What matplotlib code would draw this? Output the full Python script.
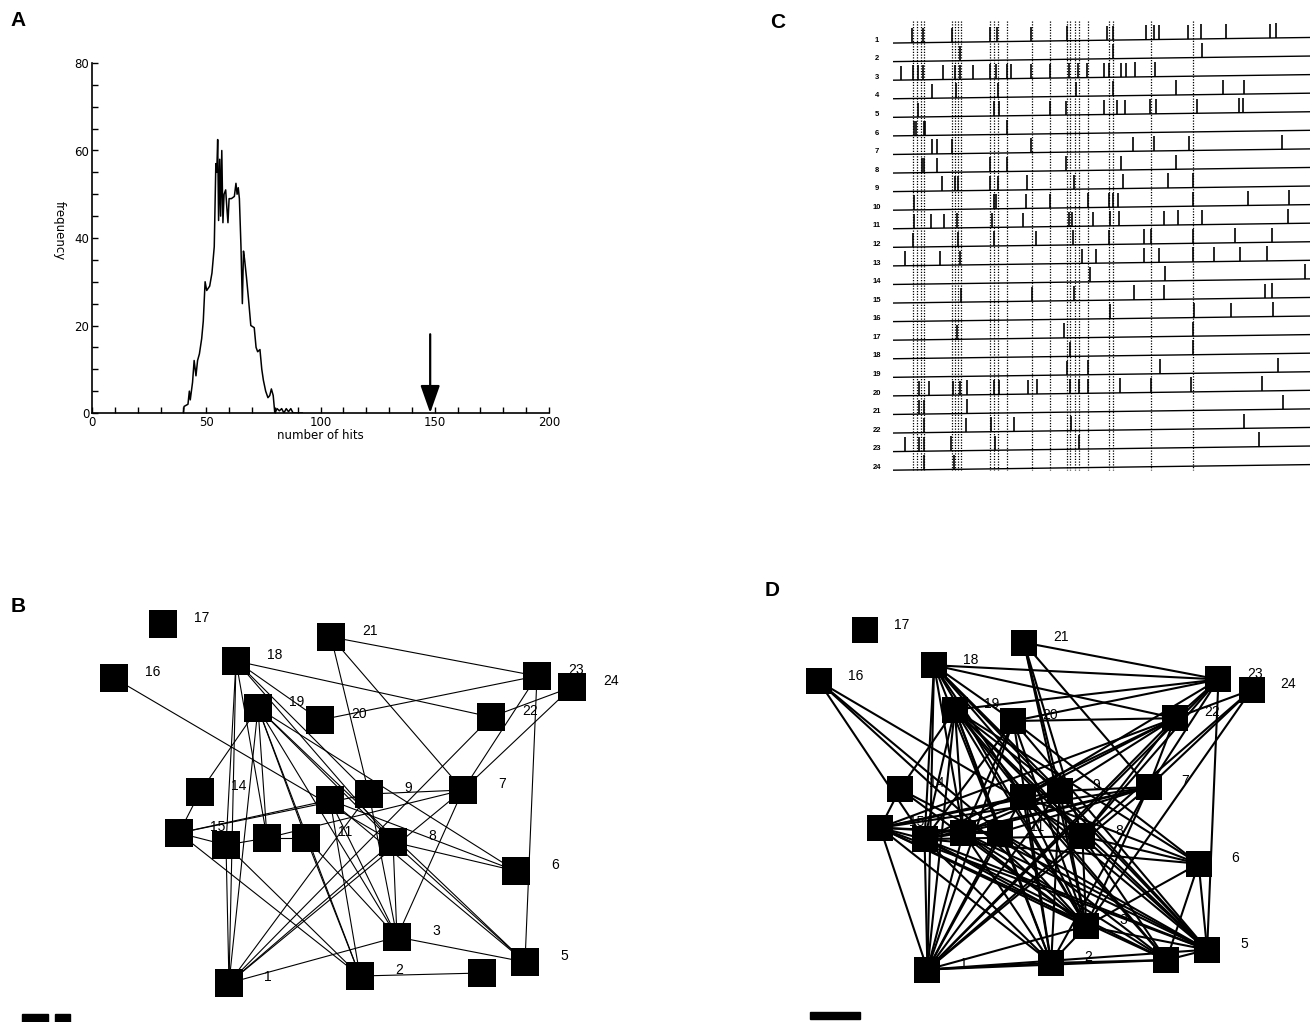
import numpy as np
import matplotlib
matplotlib.use("Agg")
import matplotlib.pyplot as plt
from matplotlib.patches import Rectangle

plt.rcParams['font.family'] = ['Liberation Sans', 'DejaVu Sans']

# ---- panel A: distribution of hits for shuffled data, arrow = observed
hits = [40, 40.3, 42, 42.6, 43, 44, 44.7, 45.5, 46.2, 47, 48, 48.7, 49.5, 50.2,
        51.5, 52.5, 53.5, 54.2, 54.6, 55, 55.4, 55.9, 56.3, 56.8, 57.3, 57.8,
        58.5, 59, 59.5, 60, 61, 62.3, 63, 63.5, 64, 64.5, 65.2, 65.8, 66.3,
        66.8, 67.6, 68.5, 69.5, 71, 71.8, 72.5, 73.5, 74.3, 75, 76, 77, 77.8,
        78.5, 79.3, 80, 81, 82, 83, 84, 85, 86, 87, 88, 92]
freq = [0, 1.5, 2, 5, 3, 7, 12, 8.5, 12, 13.5, 17, 21, 30, 28,
        29, 32, 38, 57, 55, 62.5, 44, 58, 45, 60, 43.5, 50,
        51, 47, 43.5, 49, 49, 49.5, 52.5, 50, 51.5, 49, 38, 25, 37,
        35, 31, 26, 20, 19.5, 15, 14, 14.5, 10, 7.5, 5, 3.5, 4,
        5.5, 4, 0, 1, 0.5, 1, 0, 1, 0.3, 1, 0, 0]
observed_hits = 148

# ---- panel C: spike rasters of 24 electrodes (time units)
spikes = [
    [19, 30, 59, 97, 104, 138, 174, 214, 219.5, 253, 261, 266, 295, 307.5, 333, 377, 383],
    [67, 219.5, 308.5],
    [8, 19.5, 24.5, 29.5, 50, 62, 67, 80, 97, 103, 113.5, 118, 138, 156.5, 176, 185, 194,
     210.5, 216, 228, 233, 242, 261.5],
    [39, 62.5, 105, 182.5, 219.5, 283, 329.5, 351],
    [24.5, 101, 105.5, 156.5, 173, 210.5, 223.5, 231.5, 257, 263, 303.5, 346, 350],
    [20.5, 22.5, 30.5, 32, 113.5],
    [39, 43.5, 58.5, 138, 239.5, 261, 296, 388.5],
    [29, 31, 43.5, 97, 113.5, 173, 228, 283],
    [48.5, 62, 64.5, 97, 105, 133.5, 180.5, 229.5, 274.5, 299.5],
    [20.5, 101, 103, 133, 157, 194.5, 215.5, 219.5, 224.5, 300, 354.5, 395.5],
    [20.5, 38, 51, 63.5, 98.5, 130, 176, 179, 199.5, 216.5, 225.5, 271, 284.5, 308.5, 394.5],
    [20, 64.5, 101, 142.5, 180, 215.5, 251, 257.5, 299.5, 342, 378.5],
    [11.5, 46.5, 67, 188.5, 202.5, 250.5, 265.5, 299.5, 320.5, 346.5, 373.5],
    [197, 272, 411.5],
    [67.5, 138.5, 180.5, 240.5, 271, 372, 378.5],
    [216.5, 300.5, 338, 379.5],
    [63.5, 170.5, 299.5],
    [177, 300],
    [173.5, 195, 267, 384.5],
    [25.5, 35.5, 59.5, 67, 73.5, 101, 106, 134.5, 143.5, 176.5, 185.5, 194.5, 227, 258,
     297.5, 368.5],
    [25.5, 31, 73.5, 389.5],
    [31, 72.5, 97.5, 120.5, 177.5, 351],
    [12, 25.5, 31, 57.5, 101.5, 186, 366],
    [31, 60.5],
]
sync_times = [20, 24, 28, 30.5, 59, 62, 65, 67.5, 97, 101, 105, 113.5, 138.5, 157,
              173.5, 177, 181.5, 186, 194.5, 216, 219.5, 257.5, 299.5]
t_end = 417

# ---- panels B and D: electrode layout (1..24) and significant pairs
node_x = [129, 260, 297, 382, 425, 416, 363, 293, 269, 230, 206, 167,
          126, 100, 79, 14, 63, 136, 158, 220, 231, 391, 437, 472]
node_y = [383, 376, 337, 373, 362, 271, 190, 242, 194, 200, 238, 238,
          245, 192, 233, 78, 24, 61, 108, 120, 37, 117, 76, 87]

edges_b = [(21, 23), (21, 9), (21, 7), (18, 22), (18, 20), (18, 9), (18, 8), (18, 1),
           (18, 13), (18, 12), (16, 8), (20, 23), (22, 24), (22, 1), (23, 7), (24, 7),
           (23, 5), (19, 14), (19, 1), (19, 12), (19, 11), (19, 2), (19, 3), (19, 8),
           (19, 6), (19, 5), (14, 15), (15, 13), (13, 12), (12, 11), (15, 10), (15, 9),
           (12, 7), (15, 2), (13, 2), (1, 13), (1, 8), (1, 7), (1, 9), (1, 3), (2, 4),
           (3, 5), (11, 2), (10, 2), (10, 3), (9, 3), (8, 3), (7, 3), (9, 7), (8, 6),
           (10, 6), (8, 5), (10, 5), (11, 3)]
edges_d_extra = [(16, 13), (16, 11), (16, 3), (18, 11), (18, 10), (18, 3), (18, 5),
                 (18, 23), (21, 3), (21, 8), (23, 19), (23, 10), (23, 8), (23, 22),
                 (22, 20), (22, 9), (22, 10), (22, 8), (22, 13), (22, 15), (22, 7),
                 (24, 8), (24, 3), (19, 13), (19, 4), (19, 9), (19, 10), (20, 1),
                 (20, 13), (20, 12), (20, 3), (20, 5), (20, 6), (20, 2), (15, 12),
                 (15, 11), (15, 7), (15, 1), (15, 3), (15, 5), (15, 4), (13, 3),
                 (13, 5), (13, 4), (13, 9), (13, 7), (13, 8), (1, 10), (1, 23), (1, 2),
                 (1, 4), (1, 5), (1, 11), (1, 12), (14, 3), (14, 5), (12, 3), (12, 5),
                 (12, 4), (12, 2), (12, 9), (11, 5), (11, 4), (10, 4), (9, 5), (9, 2),
                 (8, 4), (7, 2), (7, 11), (6, 5), (6, 4), (6, 3), (6, 13), (4, 5), (2, 3)]
edges_d = edges_b + edges_d_extra

W, H = 1312, 1022


def box(x0, y0, x1, y1):
    return [x0 / W, 1 - y1 / H, (x1 - x0) / W, (y1 - y0) / H]


fig = plt.figure(figsize=(W / 100, H / 100), dpi=100)

# ---------------- A
ax = fig.add_axes(box(92, 63, 549, 413))
ax.plot(hits, freq, color='black', lw=1.1)
ax.set_xlim(0, 200)
ax.set_ylim(0, 80)
for s in ['top', 'right']:
    ax.spines[s].set_visible(False)
for s in ['left', 'bottom']:
    ax.spines[s].set_linewidth(1.2)
ax.set_xticks([0, 50, 100, 150, 200])
ax.set_xticks(np.arange(0, 201, 10), minor=True)
ax.set_yticks([0, 20, 40, 60, 80])
ax.set_yticks(np.arange(0, 81, 5), minor=True)
ax.tick_params(which='both', direction='in', length=4, width=1, labelsize=8.5,
               pad=2)
ax.set_xlabel('number of hits', fontsize=8.5, labelpad=0, family='DejaVu Sans')
for lab in ax.get_xticklabels() + ax.get_yticklabels():
    lab.set_family('DejaVu Sans')
ax.text(-0.072, 0.52, 'frequency', transform=ax.transAxes, rotation=-90,
        fontsize=8.5, ha='center', va='center', family='DejaVu Sans')
ax.annotate('', xy=(observed_hits, 0), xytext=(observed_hits, 18),
            arrowprops=dict(arrowstyle='-|>,head_width=0.6,head_length=1.7',
                            color='black', lw=1.6, shrinkA=0, shrinkB=0))

# ---------------- C
axc = fig.add_axes(box(893, 15, 1310, 475))
axc.set_xlim(0, t_end)
axc.set_ylim(24.26, -0.51)
axc.axis('off')
tilt = 0.3
axc.vlines(sync_times, -0.2, 24.0, colors='black', lw=0.9,
           linestyles=(0, (1, 1.2)))
for i, times in enumerate(spikes, start=1):
    axc.plot([0, t_end], [i, i - tilt], color='black', lw=1.0)
    t = np.array(times)
    base = i - tilt * t / t_end
    axc.vlines(t, base, base - 0.78, colors='black', lw=1.2)
    axc.text(-16, i - 0.15, str(i), fontsize=5.5, fontweight='bold',
             ha='center', va='center', clip_on=False)


# ---------------- B and D
def network(axn, edges, lw, msize, fsize):
    for a, b in edges:
        axn.plot([node_x[a - 1], node_x[b - 1]], [node_y[a - 1], node_y[b - 1]],
                 color='black', lw=lw, zorder=1, solid_capstyle='butt')
    for k in range(24):
        axn.text(node_x[k] + 39, node_y[k] - 6, str(k + 1), fontsize=fsize,
                 ha='center', va='center', zorder=2)
    axn.scatter(node_x, node_y, marker='s', s=msize ** 2, color='black',
                linewidths=0, zorder=3)
    axn.axis('off')


axb = fig.add_axes(box(0, 590, 650, 1022))
axb.set_xlim(-100, 550)
axb.set_ylim(422, -10)
network(axb, edges_b, 0.8, 20.2, 10)
axb.add_patch(Rectangle((-78, 414), 26, 9, color='black', clip_on=False))
axb.add_patch(Rectangle((-45, 414), 15, 9, color='black', clip_on=False))

axd = fig.add_axes(box(700, 585, 1312, 1022))
axd.set_xlim((700 - 805.5) / 0.945, (1312 - 805.5) / 0.945)
axd.set_ylim((1022 - 607.6) / 0.945, (585 - 607.6) / 0.945)
network(axd, edges_d, 1.5, 19.4, 10)
axd.add_patch(Rectangle((5, 428), 53, 7.5, color='black', clip_on=False))

# panel letters
for letter, x, y in [('A', 18, 20), ('C', 778, 22), ('B', 18, 607), ('D', 772, 590)]:
    fig.text(x / W, 1 - y / H, letter, fontsize=15, fontweight='bold',
             ha='center', va='center')

fig.savefig('out.png', dpi=100)
